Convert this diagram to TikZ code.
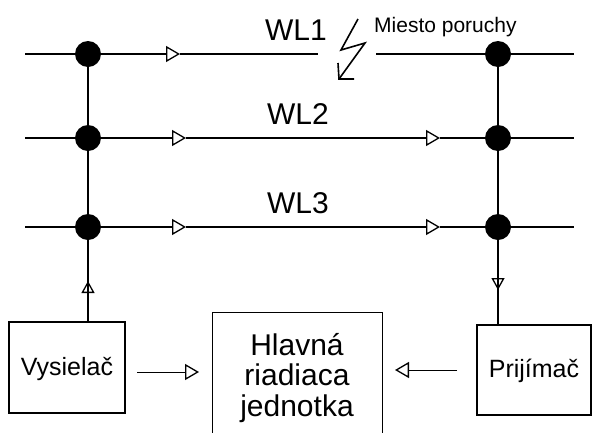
\documentclass[tikz,border=0pt]{standalone}
\usepackage{fontspec}
\setmainfont{Liberation Sans}
\usetikzlibrary{arrows.meta,calc}
\tikzset{
  wire/.style={line width=1.8pt},
  conn/.style={line width=1pt},
  dot/.style={circle, fill=black, inner sep=0pt, minimum size=26pt},
  otri/.style={-{Triangle[open, length=14pt, width=16pt, line width=1.3pt]}},
  vtri/.style={-{Triangle[open, length=12pt, width=13pt, line width=1.3pt]}},
  box/.style={draw, line width=1.3pt, rectangle, inner sep=0pt},
  wl/.style={font=\fontsize{30}{30}\selectfont, anchor=base, inner sep=0pt},
  boxtext/.style={font=\fontsize{25}{25}\selectfont, text height=18pt, text depth=3pt},
}
\begin{document}
\begin{tikzpicture}[x=1pt,y=-1pt]
\useasboundingbox (0,0) rectangle (592,432);
\clip (0,0) rectangle (592,432);
% junction dots
\node[dot] (a1) at (88,54) {};
\node[dot] (a2) at (88,138) {};
\node[dot] (a3) at (88,227) {};
\node[dot] (b1) at (498,54) {};
\node[dot] (b2) at (498,138) {};
\node[dot] (b3) at (498,227) {};
% line ends and marks
\coordinate (l1) at (25,54);
\coordinate (l2) at (25,138);
\coordinate (l3) at (25,227);
\coordinate (r1) at (574,54);
\coordinate (r2) at (574,138);
\coordinate (r3) at (574,227);
\coordinate (g1) at (318,54);
\coordinate (g2) at (376,54);
\coordinate (t1) at (180,54);
\coordinate (t2) at (186,138);
\coordinate (u2) at (440,138);
\coordinate (t3) at (186,227);
\coordinate (u3) at (440,227);
% boxes
\node[box, boxtext, minimum width=116pt, minimum height=91pt] (vys) at (67,367.5) {Vysielač};
\node[box, boxtext, minimum width=114pt, minimum height=90pt] (prij) at (534,370) {Prijímač};
\node[box, minimum width=170pt, minimum height=140pt, anchor=north west] (main) at (212,312) {};
\node[font=\fontsize{30}{30}\selectfont, anchor=base, inner sep=0pt] (maintext) at (297,355)
  {\begin{tabular}[t]{@{}c@{}}Hlavná\\riadiaca\\jednotka\end{tabular}};
% WL1
\draw[wire] (l1) -- (a1);
\draw[wire, otri] (a1) -- (t1);
\draw[wire] (t1) -- (g1);
\draw[wire] (g2) -- (b1) -- (r1);
% WL2
\draw[wire] (l2) -- (a2);
\draw[wire, otri] (a2) -- (t2);
\draw[wire, otri] (t2) -- (u2);
\draw[wire] (u2) -- (b2) -- (r2);
% WL3
\draw[wire] (l3) -- (a3);
\draw[wire, otri] (a3) -- (t3);
\draw[wire, otri] (t3) -- (u3);
\draw[wire] (u3) -- (b3) -- (r3);
% verticals
\draw[wire] (a1) -- (a2) -- (a3);
\draw[wire] (b1) -- (b2) -- (b3);
\coordinate (va) at (88,281);
\coordinate (vb) at (498,290);
\draw[wire] (vys.north -| va) -- (a3);
\draw[wire, vtri] (vys.north -| va) -- (va);
\draw[wire] (b3) -- (prij.north -| vb);
\draw[wire, vtri] (b3) -- (vb);
% box arrows
\coordinate (s1) at (137,372);
\coordinate (e1) at (199,372);
\coordinate (s2) at (457,370);
\coordinate (e2) at (395,370);
\draw[conn, otri] (s1) -- (e1);
\draw[conn, otri] (s2) -- (e2);
% fault symbol
\draw[line width=1.6pt, line join=miter] (358,19) -- (341,50) -- (365,43) -- (339,79);
\draw[line width=1.6pt] (338,63) -- (339,79) -- (354,79);
% labels
\node[wl] (wl1) at (296,40) {WL1};
\node[wl] (wl2) at (298,124) {WL2};
\node[wl] (wl3) at (298,213) {WL3};
\node[font=\fontsize{21}{21}\selectfont, anchor=base west, inner sep=0pt] (mp) at (374,32) {Miesto poruchy};
\end{tikzpicture}
\end{document}
